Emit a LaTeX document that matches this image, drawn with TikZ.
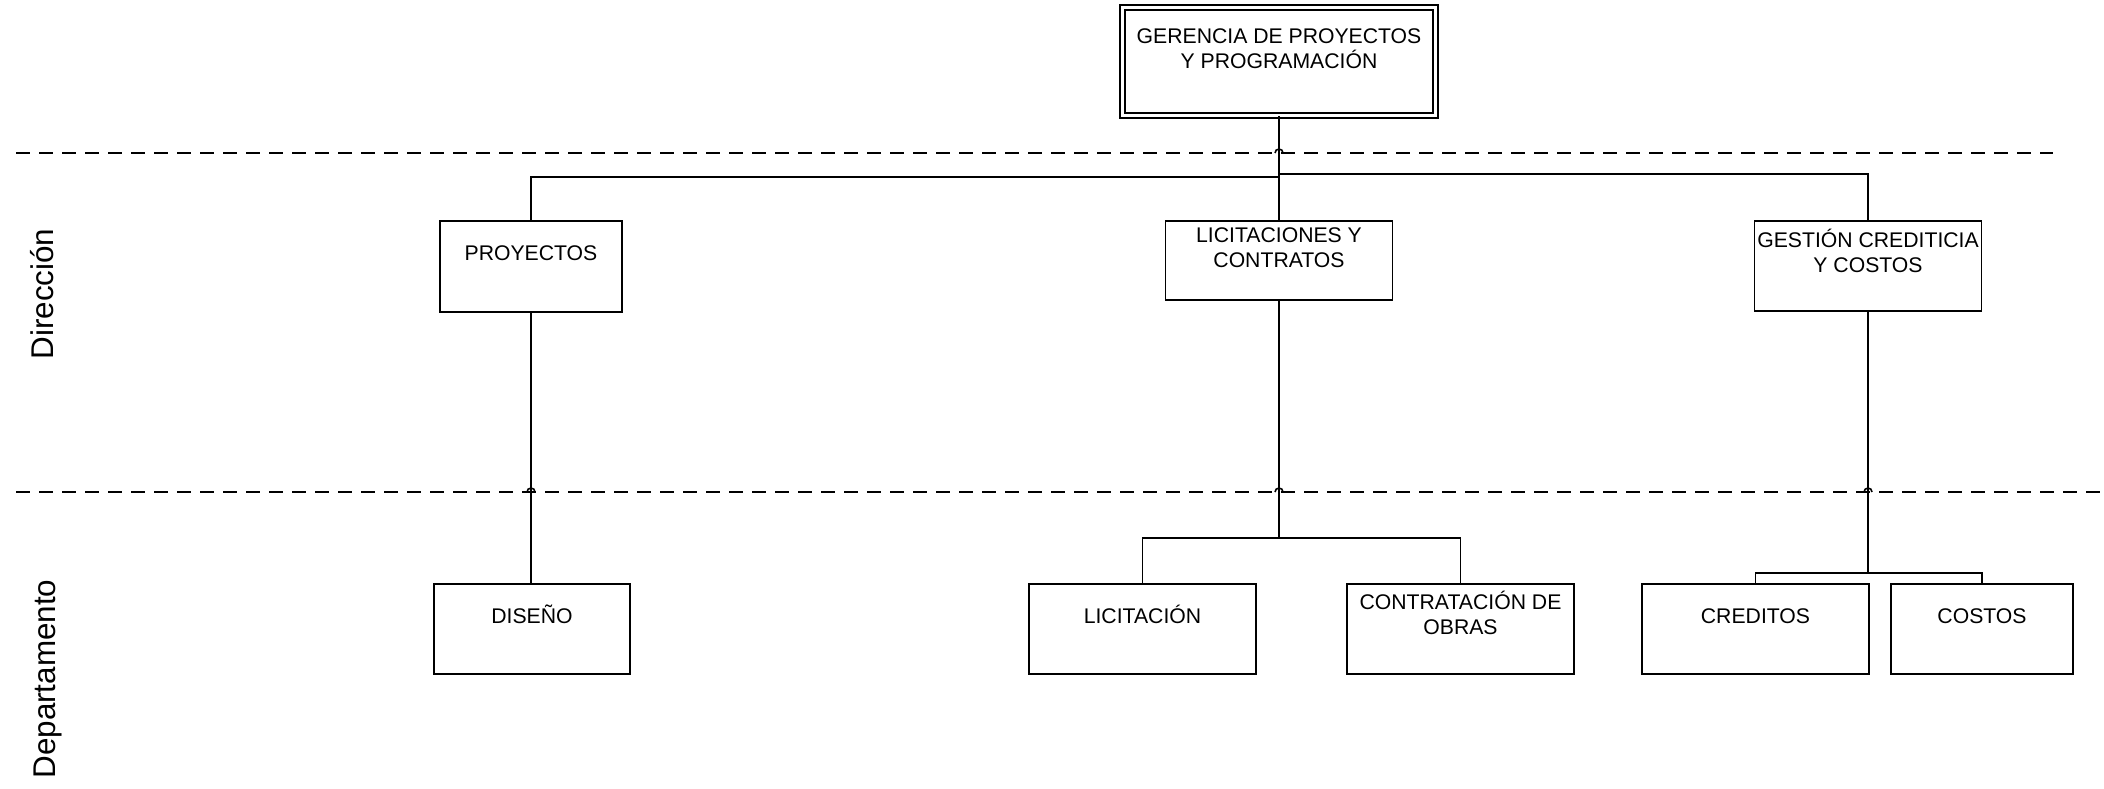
\documentclass[tikz,border=0pt]{standalone}
\usepackage{fontspec}
\setmainfont{Liberation Sans}
\begin{document}
\begin{tikzpicture}[x=0.5pt,y=-0.5pt,
  box/.style={draw,line width=0.9pt,inner sep=0pt},
  lbl/.style={font=\fontsize{10.6}{12.5}\selectfont,align=center,anchor=base,inner sep=0pt},
  conn/.style={line width=0.9pt},
  lane/.style={line width=0.9pt,dash pattern=on 7pt off 4.5pt},
  hop/.style={line width=0.8pt},
  side/.style={font=\fontsize{15.7}{18}\selectfont,rotate=90,anchor=base,inner sep=0pt}]
\useasboundingbox (0,0) rectangle (2104,788);

% swimlane separators
\draw[lane] (16,153) -- (2053,153);
\draw[lane] (16,492) -- (2104,492);

% side labels
\node[side] (ldir) at (54,294) {Dirección};
\node[side] (ldep) at (55,679) {Departamento};

% top box
\node[draw,double,line width=0.7pt,double distance=1.8pt,minimum width=156.5pt,minimum height=54pt,inner sep=0pt] (ger) at (1279,61.5) {};
\node[lbl] (gert) at (1279,68) {GERENCIA DE PROYECTOS\\Y PROGRAMACIÓN};

% second row
\node[box,minimum width=91pt,minimum height=45.5pt] (proy) at (531,266.5) {};
\node[lbl] (proyt) at (531,260) {PROYECTOS};
\node[box,minimum width=113.5pt,minimum height=39.5pt] (lic) at (1279,260.5) {};
\node[lbl] (lict) at (1279,267) {LICITACIONES Y\\CONTRATOS};
\node[box,minimum width=113.5pt,minimum height=45pt] (gest) at (1868,266) {};
\node[lbl] (gestt) at (1868,272) {GESTIÓN CREDITICIA\\Y COSTOS};

% third row
\node[box,minimum width=98pt,minimum height=45pt] (dis) at (532,629) {};
\node[lbl] (dist) at (532,623) {DISEÑO};
\node[box,minimum width=113.5pt,minimum height=45pt] (licn) at (1142.5,629) {};
\node[lbl] (licnt) at (1142.5,623) {LICITACIÓN};
\node[box,minimum width=113.5pt,minimum height=45pt] (contr) at (1460.5,629) {};
\node[lbl] (contrt) at (1460.5,634) {CONTRATACIÓN DE\\OBRAS};
\node[box,minimum width=113.5pt,minimum height=45pt] (cred) at (1755.5,629) {};
\node[lbl] (credt) at (1755.5,623) {CREDITOS};
\node[box,minimum width=91pt,minimum height=45pt] (cost) at (1982,629) {};
\node[lbl] (costt) at (1982,623) {COSTOS};

% junctions
\coordinate (j1) at (1279,177);
\coordinate (j2) at (1279,174);
\coordinate (j3) at (1279,538);
\coordinate (j4) at (1868,573);

% connectors
\draw[conn] (ger.south) -- (ger.south |- lic.north);
\draw[conn] (j1) -| (proy.north);
\draw[conn] (j2) -| (gest.north);
\draw[conn] (proy.south) -- (proy.south |- dis.north);
\draw[conn] (lic.south) -- (j3);
\draw[conn] (licn.north) |- (j3) -| (contr.north);
\draw[conn] (gest.south) -- (j4);
\draw[conn] (cred.north) |- (j4) -| (cost.north);

% line hops
\draw[hop] (1275,153) arc[start angle=180,end angle=0,radius=2pt];
\draw[hop] (527,492) arc[start angle=180,end angle=0,radius=2pt];
\draw[hop] (1275,492) arc[start angle=180,end angle=0,radius=2pt];
\draw[hop] (1864,492) arc[start angle=180,end angle=0,radius=2pt];
\end{tikzpicture}
\end{document}
